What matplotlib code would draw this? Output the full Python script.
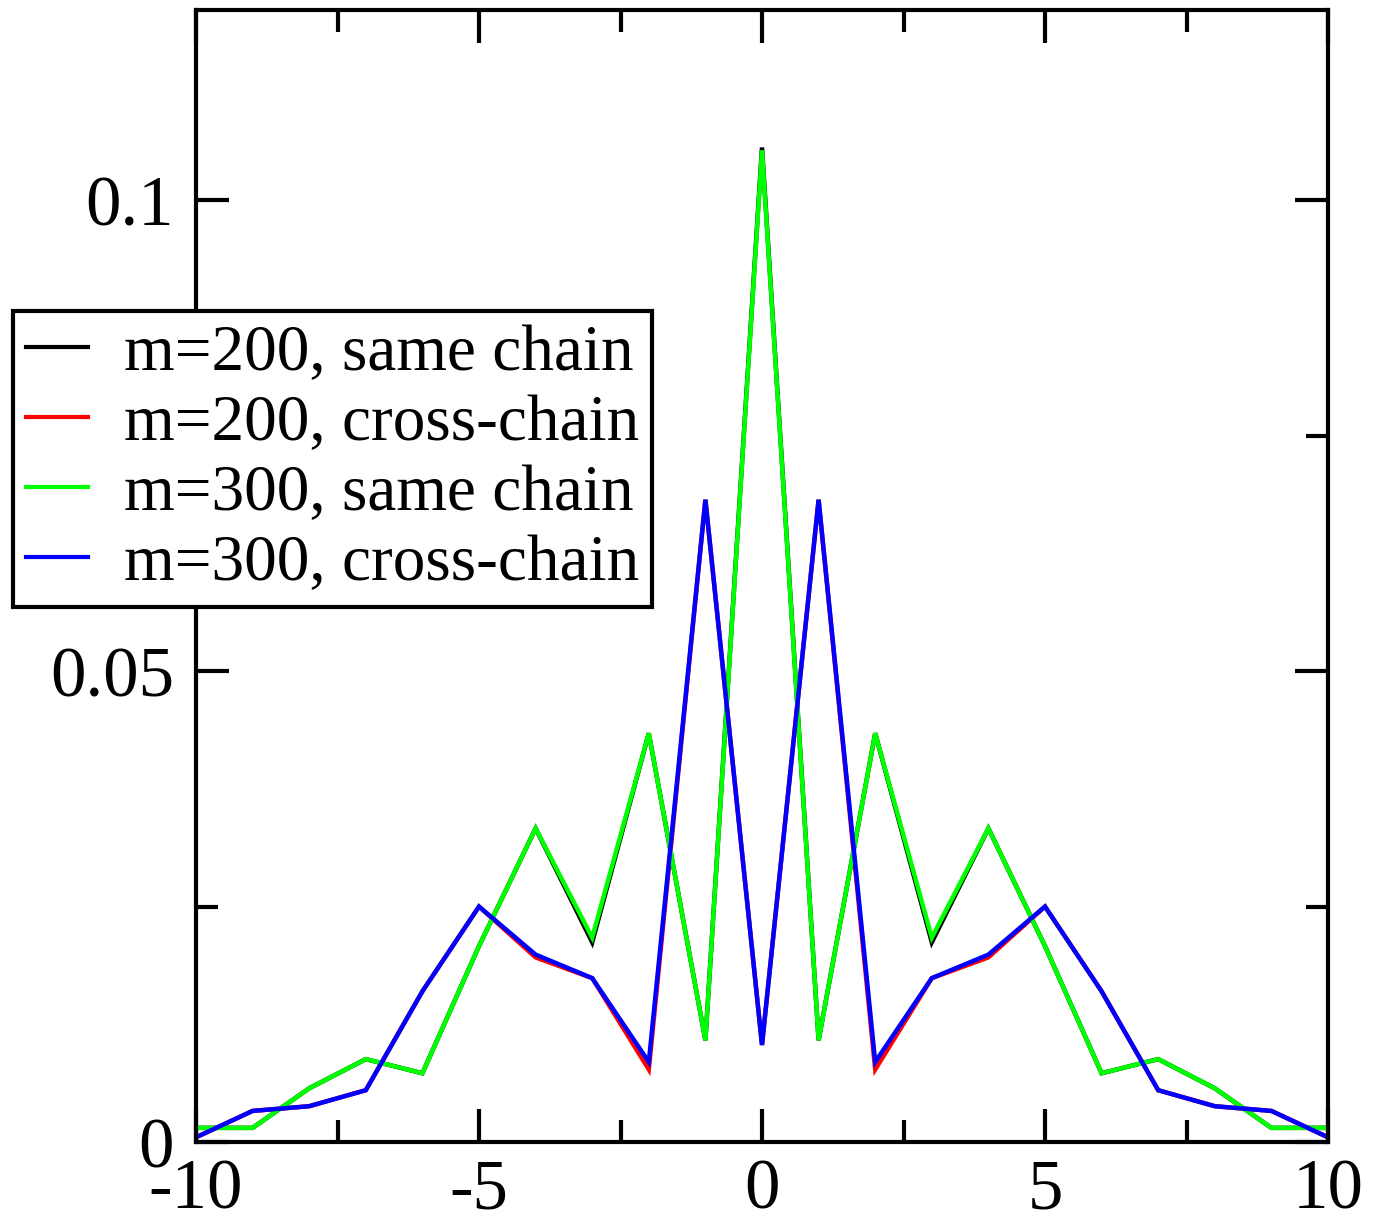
import numpy as np
import matplotlib
matplotlib.use("Agg")
import matplotlib.pyplot as plt
from matplotlib.ticker import MultipleLocator

plt.rcParams['font.family'] = ['Liberation Serif', 'DejaVu Serif']

# lattice distance
x = np.arange(-10, 11)

# m=200 same chain
y_200_same = [0.0015, 0.0015, 0.0057, 0.0088, 0.0073, 0.0208, 0.0333, 0.0212, 0.0434, 0.0108,
              0.1056,
              0.0108, 0.0434, 0.0212, 0.0333, 0.0208, 0.0073, 0.0088, 0.0057, 0.0015, 0.0015]
# m=200 cross-chain
y_200_cross = [0.0005, 0.0033, 0.0038, 0.0055, 0.0160, 0.0250, 0.0196, 0.0174, 0.0077, 0.0682,
               0.0103,
               0.0682, 0.0077, 0.0174, 0.0196, 0.0250, 0.0160, 0.0055, 0.0038, 0.0033, 0.0005]
# m=300 same chain
y_300_same = [0.0015, 0.0015, 0.0057, 0.0088, 0.0073, 0.0208, 0.0333, 0.0217, 0.0434, 0.0108,
              0.1053,
              0.0108, 0.0434, 0.0217, 0.0333, 0.0208, 0.0073, 0.0088, 0.0057, 0.0015, 0.0015]
# m=300 cross-chain
y_300_cross = [0.0005, 0.0033, 0.0038, 0.0055, 0.0160, 0.0250, 0.0199, 0.0174, 0.0085, 0.0682,
               0.0103,
               0.0682, 0.0085, 0.0174, 0.0199, 0.0250, 0.0160, 0.0055, 0.0038, 0.0033, 0.0005]

labels = ['m=200, same chain', 'm=200, cross-chain', 'm=300, same chain', 'm=300, cross-chain']
colors = ['#000000', '#ff0000', '#00ff00', '#0000ff']

fig = plt.figure(figsize=(13.74, 12.2), dpi=100)
ax = fig.add_axes([196 / 1374, 1 - 1142 / 1220, (1328 - 196) / 1374, (1142 - 10) / 1220])

for ys, lab, c in zip([y_200_same, y_200_cross, y_300_same, y_300_cross], labels, colors):
    ax.plot(x, ys, color=c, lw=3.2, label=lab, solid_joinstyle='miter')

ax.set_xlim(-10, 10)
ax.set_ylim(0, 0.1202)
ax.xaxis.set_minor_locator(MultipleLocator(2.5))
ax.yaxis.set_minor_locator(MultipleLocator(0.025))
ax.set_yticks([0, 0.05, 0.1])
ax.set_yticklabels(['0', '0.05', '0.1'])
ax.set_xticks([-10, -5, 0, 5, 10])
ax.set_xticklabels(['-10', '-5', '0', '5', '10'])

ax.tick_params(which='both', direction='in', top=True, right=True, width=3, labelsize=51)
ax.tick_params(axis='y', which='both', pad=16)
ax.tick_params(axis='x', which='both', pad=12)
ax.tick_params(which='major', length=24)
ax.tick_params(which='minor', length=16)
for s in ax.spines.values():
    s.set_linewidth(3)

leg = ax.legend(loc='upper left', bbox_to_anchor=(13 / 1374, 1 - 311 / 1220),
                bbox_transform=fig.transFigure, fontsize=47, frameon=True, fancybox=False,
                framealpha=1, edgecolor='black',
                handlelength=0.95, handletextpad=0.55, labelspacing=0.16, borderpad=0.2,
                borderaxespad=0)
leg.get_frame().set_linewidth(3)
for l in leg.get_lines():
    l.set_linewidth(3)

fig.savefig('out.png', dpi=100)
